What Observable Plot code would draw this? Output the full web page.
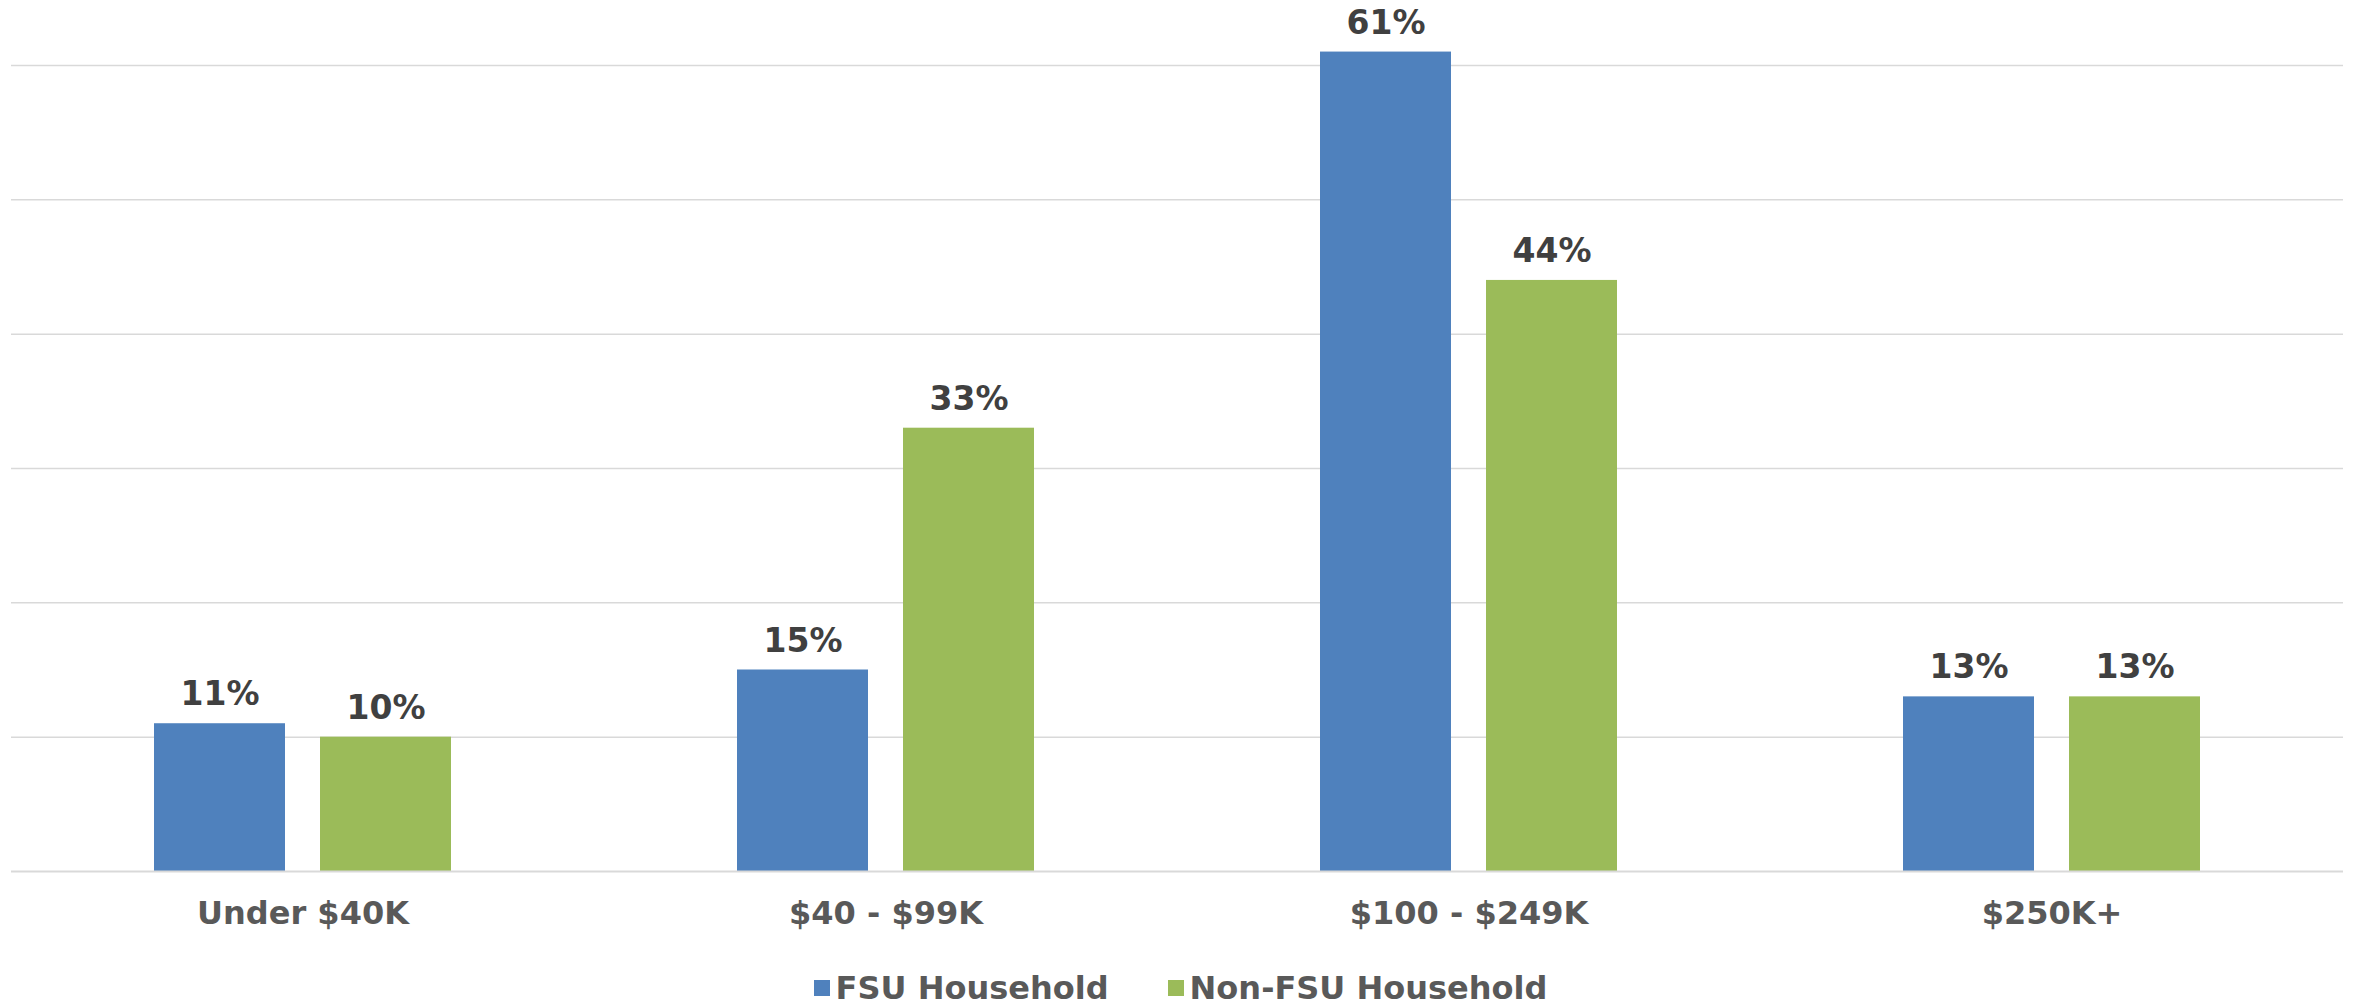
<!DOCTYPE html>
<html><head><meta charset="utf-8">
<script src="https://cdn.jsdelivr.net/npm/d3@7"></script>
<script src="https://cdn.jsdelivr.net/npm/@observablehq/plot@0.6"></script>
<style>
body{margin:0;background:#fff;font-family:"DejaVu Sans",Verdana,sans-serif;}
#legend{display:flex;justify-content:center;align-items:center;gap:59px;margin-top:22px;font-size:32px;font-weight:bold;color:#595959;line-height:1;}
#legend .item{display:flex;align-items:center;}
#legend .sw{display:inline-block;width:16px;height:16px;margin-right:6px;}
</style></head><body><div id="chart"></div><div id="legend"></div><script>
const categories = ["Under $40K", "$40 - $99K", "$100 - $249K", "$250K+"];
const series = ["FSU Household", "Non-FSU Household"];
const fsu = [11, 15, 61, 13];
const nonFsu = [10, 33, 44, 13];
const colors = ["#4F81BD", "#9BBB59"];
const gridTicks = [10, 20, 30, 40, 50, 60];

const data = categories.flatMap((c, i) => [
  {category: c, series: series[0], value: fsu[i]},
  {category: c, series: series[1], value: nonFsu[i]}
]);

const chart = Plot.plot({
  width: 2361, height: 950,
  marginLeft: 10, marginRight: 17, marginTop: 65, marginBottom: 79,
  style: {fontFamily: "DejaVu Sans, Verdana, sans-serif", background: "#fff"},
  fx: {domain: categories, padding: 0, label: null},
  x: {domain: series, paddingInner: 0.211, paddingOuter: 0.855, axis: null},
  y: {domain: [0, 60], axis: null},
  color: {domain: series, range: colors},
  marks: [
    Plot.gridY(gridTicks, {stroke: "#d9d9d9", strokeOpacity: 1, strokeWidth: 1.5}),
    Plot.barY(data, {fx: "category", x: "series", y: "value", fill: "series"}),
    Plot.ruleY([0], {stroke: "#d9d9d9", strokeWidth: 2}),
    Plot.text(data, {fx: "category", x: "series", y: "value", text: d => d.value + "%", dy: -29, fontSize: 33, fontWeight: "bold", fill: "#404040"}),
    Plot.axisFx({anchor: "bottom", tickSize: 0, tickPadding: 30, fontSize: 32, fontWeight: "bold", color: "#595959", label: null})
  ]
});
document.getElementById("chart").appendChild(chart);

const legend = document.getElementById("legend");
series.forEach((s, i) => {
  const item = document.createElement("span");
  item.className = "item";
  const sw = document.createElement("span");
  sw.className = "sw";
  sw.style.background = colors[i];
  item.appendChild(sw);
  item.appendChild(document.createTextNode(s));
  legend.appendChild(item);
});
</script></body></html>
